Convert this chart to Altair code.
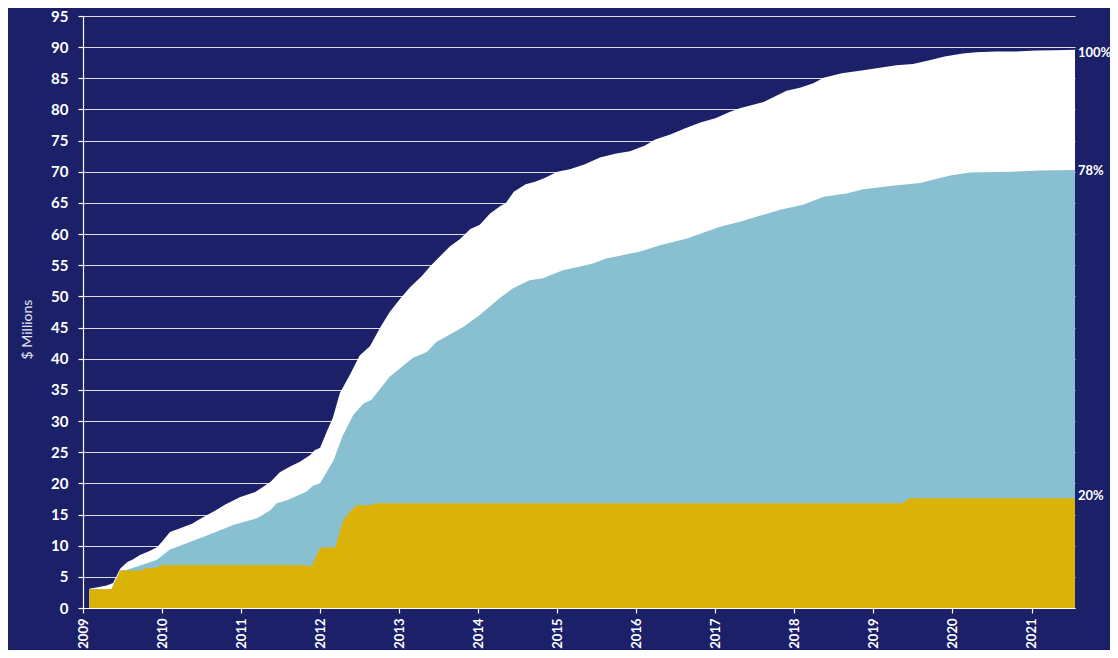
import altair as alt
import pandas as pd

# ---- data (decimal year, $ millions) ----
total_year = [2009.08, 2009.17, 2009.30, 2009.38, 2009.47, 2009.56, 2009.63, 2009.72, 2009.85, 2009.94,
              2010.01, 2010.10, 2010.23, 2010.38, 2010.48, 2010.67, 2010.80, 2010.99, 2011.18, 2011.37,
              2011.49, 2011.62, 2011.75, 2011.87, 2011.93, 2012.00, 2012.09, 2012.16, 2012.25, 2012.38,
              2012.50, 2012.63, 2012.76, 2012.88, 2013.01, 2013.14, 2013.29, 2013.39, 2013.52, 2013.64,
              2013.77, 2013.90, 2014.02, 2014.15, 2014.28, 2014.35, 2014.45, 2014.60, 2014.72, 2014.84,
              2015.00, 2015.16, 2015.35, 2015.54, 2015.73, 2015.92, 2016.11, 2016.24, 2016.43, 2016.62,
              2016.81, 2017.00, 2017.18, 2017.31, 2017.61, 2017.90, 2018.07, 2018.24, 2018.37, 2018.60,
              2018.87, 2019.08, 2019.29, 2019.50, 2019.71, 2019.90, 2020.13, 2020.30, 2020.56, 2020.80,
              2021.06, 2021.30, 2021.55]
total_value = [3.1, 3.3, 3.6, 4.0, 6.3, 7.4, 7.8, 8.5, 9.2, 9.8,
               10.8, 12.2, 12.8, 13.5, 14.3, 15.6, 16.6, 17.8, 18.6, 20.2,
               21.8, 22.7, 23.5, 24.5, 25.3, 25.7, 28.5, 30.5, 34.5, 37.5,
               40.5, 42.0, 45.0, 47.5, 49.6, 51.5, 53.3, 54.8, 56.5, 58.0,
               59.2, 60.8, 61.5, 63.3, 64.5, 65.0, 66.8, 68.0, 68.4, 69.0,
               70.0, 70.4, 71.2, 72.3, 72.9, 73.3, 74.2, 75.2, 76.0, 77.0,
               77.9, 78.6, 79.6, 80.2, 81.2, 83.0, 83.5, 84.2, 85.1, 85.8,
               86.3, 86.7, 87.1, 87.3, 87.9, 88.5, 89.0, 89.2, 89.3, 89.3,
               89.45, 89.5, 89.6]

blue_year = [2009.08, 2009.36, 2009.47, 2009.55, 2009.93, 2010.10, 2010.31, 2010.56, 2010.90, 2011.20,
             2011.37, 2011.45, 2011.58, 2011.83, 2011.91, 2012.00, 2012.17, 2012.28, 2012.42, 2012.55,
             2012.65, 2012.88, 2013.17, 2013.35, 2013.47, 2013.81, 2014.02, 2014.27, 2014.44, 2014.65,
             2014.82, 2015.07, 2015.29, 2015.45, 2015.62, 2016.05, 2016.30, 2016.64, 2017.06, 2017.31,
             2017.82, 2018.11, 2018.37, 2018.66, 2018.87, 2019.21, 2019.59, 2019.97, 2020.22, 2020.73,
             2021.11, 2021.55]
blue_value = [3.0, 3.0, 6.0, 6.1, 7.7, 9.4, 10.4, 11.6, 13.3, 14.4,
              15.7, 16.8, 17.3, 18.7, 19.6, 20.0, 23.7, 27.5, 31.0, 32.8,
              33.4, 37.1, 40.1, 41.1, 42.7, 45.1, 47.0, 49.7, 51.3, 52.6,
              52.9, 54.2, 54.8, 55.3, 56.1, 57.2, 58.2, 59.3, 61.2, 62.0,
              63.9, 64.7, 66.0, 66.5, 67.2, 67.7, 68.2, 69.4, 69.9, 70.0,
              70.2, 70.3]

gold_year = [2009.08, 2009.36, 2009.47, 2009.72, 2009.80, 2009.91, 2010.00, 2011.75, 2011.89, 2012.00,
             2012.19, 2012.29, 2012.36, 2012.46, 2012.63, 2012.71, 2019.37, 2019.45, 2021.55]
gold_value = [3.0, 3.0, 6.0, 6.0, 6.4, 6.4, 6.9, 6.9, 6.7, 9.7,
              9.7, 14.0, 15.2, 16.5, 16.5, 16.8, 16.8, 17.6, 17.6]

year_ticks = list(range(2009, 2022))
y_ticks = list(range(0, 96, 5))

end_labels = ["100%", "78%", "20%"]
end_label_value = [89.0, 70.1, 18.0]
end_label_year = [2021.55, 2021.55, 2021.55]

NAVY = "#1b2069"
WHITE = "#ffffff"
BLUE = "#88c0d2"
GOLD = "#dbb207"
FONT = "Lato"

total_df = pd.DataFrame({"year": total_year, "value": total_value})
blue_df = pd.DataFrame({"year": blue_year, "value": blue_value})
gold_df = pd.DataFrame({"year": gold_year, "value": gold_value})
label_df = pd.DataFrame({"year": end_label_year, "value": end_label_value, "label": end_labels})

x_scale = alt.Scale(domain=[2009, 2021.55], nice=False, zero=False)
y_scale = alt.Scale(domain=[0, 95], nice=False)

x_enc = alt.X("year:Q", scale=x_scale,
              axis=alt.Axis(values=year_ticks, format="d", labelAngle=270, grid=False,
                            tickSize=5, labelPadding=5, labelFontSize=13, labelOverlap=False,
                            title=None))
y_enc = alt.Y("value:Q", scale=y_scale,
              axis=alt.Axis(values=y_ticks, grid=True, tickSize=5, labelPadding=10,
                            labelFontSize=15, labelOverlap=False, title="$ Millions",
                            titleFontWeight="normal",
                            titleFontSize=14, titleColor="#e4e6f0", titleX=-56, titleY=313,
                            titleAngle=270, titleAlign="center", titleBaseline="middle"))

total_area = alt.Chart(total_df).mark_area(color=WHITE, interpolate="linear", opacity=1).encode(x=x_enc, y=y_enc)
blue_area = alt.Chart(blue_df).mark_area(color=BLUE, interpolate="linear", opacity=1).encode(x=x_enc, y=y_enc)
gold_area = alt.Chart(gold_df).mark_area(color=GOLD, interpolate="linear", opacity=1).encode(x=x_enc, y=y_enc)
labels = alt.Chart(label_df).mark_text(align="left", baseline="middle", dx=3, color=WHITE,
                                       font=FONT, fontWeight="bold", fontSize=13).encode(
    x=x_enc, y=y_enc, text="label:N")

chart = alt.layer(total_area, blue_area, gold_area, labels).properties(
    width=992, height=592,
    padding={"left": 75, "top": 8, "right": 35, "bottom": 42},
    autosize=alt.AutoSizeParams(type="none"),
    background=NAVY,
).configure_view(strokeWidth=0).configure_axis(
    domainColor=WHITE, tickColor=WHITE, labelColor=WHITE, labelFont=FONT, titleFont=FONT,
    labelFontWeight="bold", gridColor=WHITE, gridOpacity=0.85, gridWidth=1.2, domainWidth=1.2,
    tickWidth=1.2,
)

chart.save("out.html", embed_options={"renderer": "svg", "actions": False})
